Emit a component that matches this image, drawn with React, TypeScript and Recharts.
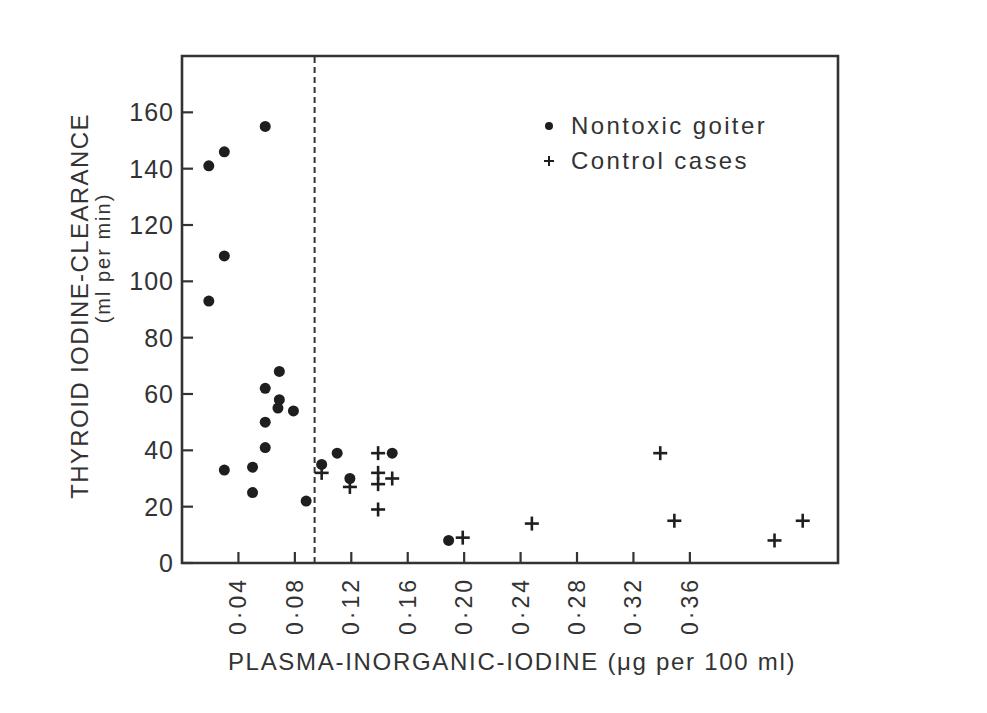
import {
    ScatterChart,
    Scatter,
    XAxis,
    YAxis,
    ReferenceLine,
    ReferenceArea,
    Legend,
} from "recharts";

// Nontoxic goiter (dots)
const goiterX = [
    0.059, 0.03, 0.019, 0.03, 0.019, 0.03, 0.05, 0.05, 0.059, 0.059, 0.059,
    0.069, 0.069, 0.068, 0.079, 0.088, 0.099, 0.11, 0.119, 0.149, 0.189,
];
const goiterY = [
    155, 146, 141, 109, 93, 33, 34, 25, 41, 50, 62, 68, 58, 55, 54, 22, 35, 39,
    30, 39, 8,
];

// Control cases (crosses)
const controlX = [
    0.099, 0.119, 0.139, 0.139, 0.139, 0.139, 0.149, 0.199, 0.248, 0.339, 0.349,
    0.42, 0.44,
];
const controlY = [32, 27, 39, 32, 28, 19, 30, 9, 14, 39, 15, 8, 15];

const xTicks = [0.04, 0.08, 0.12, 0.16, 0.2, 0.24, 0.28, 0.32, 0.36];
const yTicks = [0, 20, 40, 60, 80, 100, 120, 140, 160];
const cutoff = 0.094;

const INK = "#333";
const FONT = "'Liberation Sans', Arial, sans-serif";

const goiter = goiterX.map((x, i) => ({ x, y: goiterY[i] }));
const control = controlX.map((x, i) => ({ x, y: controlY[i] }));

const fmtX = (v: number) => v.toFixed(2).replace(".", "·");

const DotShape = (props: any) => (
    <circle cx={props.cx} cy={props.cy} r={5.5} fill="#1e1e1e" />
);

const PlusShape = (props: any) => {
    const { cx, cy } = props;
    return (
        <g stroke="#1e1e1e" strokeWidth={2.6}>
            <line x1={cx - 7} x2={cx + 7} y1={cy} y2={cy} />
            <line x1={cx} x2={cx} y1={cy - 7} y2={cy + 7} />
        </g>
    );
};

// tick labels only; the inward tick marks come from tickLine with a negative tickSize
const YTick = (props: any) => {
    const { x, y, payload } = props;
    return (
        <text
            x={x}
            y={y}
            textAnchor="end"
            dominantBaseline="central"
            fontSize={25}
            letterSpacing={1}
            fontFamily={FONT}
            fill={INK}
        >
            {payload.value}
        </text>
    );
};

const XTick = (props: any) => {
    const { x, y, payload } = props;
    return (
        <text
            x={x}
            y={y}
            transform={`rotate(-90 ${x} ${y})`}
            textAnchor="end"
            dominantBaseline="central"
            fontSize={23}
            letterSpacing={3}
            fontFamily={FONT}
            fill={INK}
        >
            {fmtX(payload.value)}
        </text>
    );
};

const LegendBox = () => (
    <div style={{ fontFamily: FONT, fontSize: 24, color: INK, letterSpacing: 2.4 }}>
        <div style={{ display: "flex", alignItems: "center", height: 35 }}>
            <svg width={20} height={20} style={{ marginRight: 11 }}>
                <circle cx={9} cy={10} r={4} fill="#1e1e1e" />
            </svg>
            <span>Nontoxic goiter</span>
        </div>
        <div style={{ display: "flex", alignItems: "center", height: 35 }}>
            <svg width={20} height={20} style={{ marginRight: 11 }}>
                <g stroke="#1e1e1e" strokeWidth={2}>
                    <line x1={4} x2={14} y1={10} y2={10} />
                    <line x1={9} x2={9} y1={5} y2={15} />
                </g>
            </svg>
            <span>Control cases</span>
        </div>
    </div>
);

export default function App() {
    return (
        <div style={{ position: "absolute", left: 0, top: 0, background: "#fff" }}>
            <ScatterChart
                width={987}
                height={713}
                margin={{ top: 56, right: 149, left: 122, bottom: 50 }}
            >
                <XAxis
                    type="number"
                    dataKey="x"
                    domain={[0, 0.465]}
                    ticks={xTicks}
                    interval={0}
                    tickSize={-11}
                    tickMargin={25}
                    tickLine={{ stroke: INK, strokeWidth: 2.2 }}
                    tick={<XTick />}
                    axisLine={false}
                    height={100}
                    allowDataOverflow
                />
                <YAxis
                    type="number"
                    dataKey="y"
                    domain={[0, 180]}
                    ticks={yTicks}
                    interval={0}
                    tickSize={-11}
                    tickMargin={19}
                    tickLine={{ stroke: INK, strokeWidth: 2.2 }}
                    tick={<YTick />}
                    axisLine={false}
                    width={60}
                    allowDataOverflow
                />
                <ReferenceArea
                    x1={0}
                    x2={0.465}
                    y1={0}
                    y2={180}
                    fill="none"
                    stroke={INK}
                    strokeWidth={2.6}
                    ifOverflow="visible"
                />
                <ReferenceLine
                    x={cutoff}
                    stroke={INK}
                    strokeWidth={2}
                    strokeDasharray="6 4"
                />
                <Scatter
                    name="Nontoxic goiter"
                    data={goiter}
                    shape={<DotShape />}
                    isAnimationActive={false}
                />
                <Scatter
                    name="Control cases"
                    data={control}
                    shape={<PlusShape />}
                    isAnimationActive={false}
                />
                <Legend
                    content={<LegendBox />}
                    layout="vertical"
                    verticalAlign="middle"
                    align="center"
                    wrapperStyle={{ left: 540, top: 108, width: 320 }}
                />
                <text
                    x={79}
                    y={306}
                    transform="rotate(-90 79 306)"
                    textAnchor="middle"
                    dominantBaseline="central"
                    fontSize={24}
                    letterSpacing={1.4}
                    fontFamily={FONT}
                    fill={INK}
                >
                    THYROID IODINE-CLEARANCE
                </text>
                <text
                    x={103}
                    y={258}
                    transform="rotate(-90 103 258)"
                    textAnchor="middle"
                    dominantBaseline="central"
                    fontSize={20}
                    letterSpacing={2}
                    fontFamily={FONT}
                    fill={INK}
                >
                    (ml per min)
                </text>
                <text
                    x={512}
                    y={661}
                    textAnchor="middle"
                    dominantBaseline="central"
                    fontSize={24}
                    letterSpacing={1.7}
                    fontFamily={FONT}
                    fill={INK}
                >
                    PLASMA-INORGANIC-IODINE (μg per 100 ml)
                </text>
            </ScatterChart>
        </div>
    );
}
